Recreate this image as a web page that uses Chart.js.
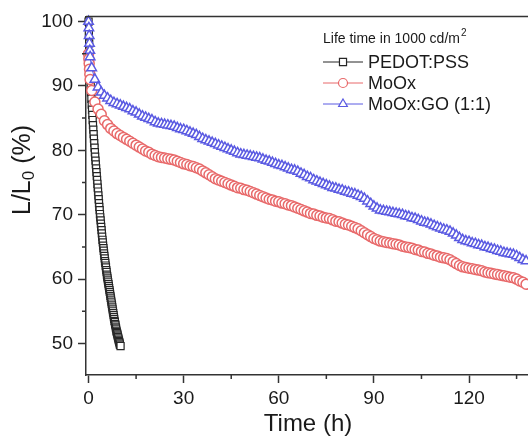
<!DOCTYPE html>
<html>
<head>
<meta charset="utf-8">
<script src="https://cdn.jsdelivr.net/npm/chart.js@4/dist/chart.umd.min.js"></script>
<style>
  html, body { margin: 0; padding: 0; background: #fff; overflow: hidden; }
  canvas { display: block; }
</style>
</head>
<body>
<canvas id="c" width="528" height="441"></canvas>
<script>
// tick labels
const xTicks = [0, 30, 60, 90, 120];
const yTicks = [50, 60, 70, 80, 90, 100];
const xMinor = [15, 45, 75, 105, 135];
const yMinor = [55, 65, 75, 85, 95];

const seriesNames = ['PEDOT:PSS', 'MoOx', 'MoOx:GO (1:1)'];

// PEDOT:PSS (h, %)
const pedotTime = [
  0, 0.1, 0.2, 0.3, 0.4, 0.5, 0.6, 0.7, 0.8, 0.9,
  1.0, 1.1, 1.2, 1.3, 1.4, 1.5, 1.6, 1.7, 1.8, 1.9,
  2.0, 2.1, 2.2, 2.3, 2.4, 2.5, 2.6, 2.7, 2.8, 2.9,
  3.0, 3.1, 3.2, 3.3, 3.4, 3.5, 3.6, 3.7, 3.8, 3.9,
  4.0, 4.1, 4.2, 4.3, 4.4, 4.5, 4.6, 4.7, 4.8, 4.9,
  5.0, 5.1, 5.2, 5.3, 5.4, 5.5, 5.6, 5.7, 5.8, 5.9,
  6.0, 6.1, 6.2, 6.3, 6.4, 6.5, 6.6, 6.7, 6.8, 6.9,
  7.0, 7.1, 7.2, 7.3, 7.4, 7.5, 7.6, 7.7, 7.8, 7.9,
  8.0, 8.1, 8.2, 8.3, 8.4, 8.5, 8.6, 8.7, 8.8, 8.9,
  9.0, 9.1, 9.2, 9.3, 9.4, 9.5, 9.6, 9.7, 9.8, 9.9,
  10.1
];
const pedotVal = [
  100, 98.2, 96.6, 95.0, 93.6, 92.3, 91.1, 90.0, 89.0, 88.0,
  87.1, 86.3, 85.5, 84.7, 83.9, 83.2, 82.5, 81.8, 81.1, 80.4,
  79.7, 79.0, 78.4, 77.8, 77.2, 76.6, 76.0, 75.4, 74.8, 74.2,
  73.6, 73.0, 72.4, 71.8, 71.2, 70.7, 70.1, 69.6, 69.1, 68.6,
  68.1, 67.6, 67.1, 66.6, 66.1, 65.7, 65.2, 64.8, 64.4, 64.0,
  63.6, 63.2, 62.8, 62.5, 62.1, 61.8, 61.4, 61.1, 60.7, 60.4,
  60.1, 59.8, 59.5, 59.2, 58.9, 58.6, 58.3, 58.0, 57.7, 57.4,
  57.1, 56.8, 56.5, 56.2, 55.9, 55.6, 55.3, 55.0, 54.7, 54.4,
  54.1, 53.8, 53.5, 53.3, 53.0, 52.8, 52.5, 52.3, 52.0, 51.8,
  51.6, 51.4, 51.2, 51.0, 50.8, 50.6, 50.4, 50.2, 50.0, 49.8,
  49.6
];

// MoOx and MoOx:GO share the same time base (h)
const moTime = [
  0, 0.1, 0.2, 0.3, 0.4, 0.5,
  1, 2, 3, 4, 5, 6, 7, 8, 9, 10,
  11, 12, 13, 14, 15, 16, 17, 18, 19, 20,
  21, 22, 23, 24, 25, 26, 27, 28, 29, 30,
  31, 32, 33, 34, 35, 36, 37, 38, 39, 40,
  41, 42, 43, 44, 45, 46, 47, 48, 49, 50,
  51, 52, 53, 54, 55, 56, 57, 58, 59, 60,
  61, 62, 63, 64, 65, 66, 67, 68, 69, 70,
  71, 72, 73, 74, 75, 76, 77, 78, 79, 80,
  81, 82, 83, 84, 85, 86, 87, 88, 89, 90,
  91, 92, 93, 94, 95, 96, 97, 98, 99, 100,
  101, 102, 103, 104, 105, 106, 107, 108, 109, 110,
  111, 112, 113, 114, 115, 116, 117, 118, 119, 120,
  121, 122, 123, 124, 125, 126, 127, 128, 129, 130,
  131, 132, 133, 134, 135, 136, 137, 138
];
const mooxVal = [
  95.0, 94.2, 93.5, 92.6, 91.8, 91.0,
  89.3, 87.5, 86.4, 85.6, 84.6, 84.0, 83.4, 83.0, 82.6, 82.3,
  82.0, 81.7, 81.4, 81.1, 80.8, 80.5, 80.2, 79.9, 79.7, 79.4,
  79.2, 79.0, 78.9, 78.8, 78.7, 78.6, 78.5, 78.3, 78.1, 77.9,
  77.8, 77.6, 77.5, 77.3, 77.1, 76.8, 76.5, 76.2, 75.9, 75.6,
  75.4, 75.2, 75.0, 74.8, 74.6, 74.4, 74.2, 74.1, 73.9, 73.8,
  73.6, 73.4, 73.2, 73.0, 72.8, 72.6, 72.4, 72.3, 72.1, 72.0,
  71.8, 71.7, 71.5, 71.4, 71.2, 71.0, 70.8, 70.6, 70.4, 70.2,
  70.1, 69.9, 69.8, 69.6, 69.5, 69.4, 69.2, 69.0, 68.9, 68.7,
  68.5, 68.4, 68.2, 68.0, 67.8, 67.5, 67.2, 66.9, 66.6, 66.3,
  66.1, 65.9, 65.8, 65.7, 65.6, 65.5, 65.4, 65.3, 65.1, 65.0,
  64.9, 64.8, 64.6, 64.5, 64.3, 64.2, 64.0, 63.9, 63.7, 63.6,
  63.4, 63.3, 63.2, 63.0, 62.7, 62.4, 62.1, 61.9, 61.8, 61.7,
  61.6, 61.5, 61.4, 61.3, 61.1, 61.0, 60.9, 60.8, 60.7, 60.6,
  60.5, 60.4, 60.3, 60.2, 60.0, 59.7, 59.5, 59.2
];
const mooxGoVal = [
  100, 99.0, 97.8, 96.6, 95.5, 94.5,
  92.8, 91.0, 89.8, 89.0, 88.5, 88.1, 87.7, 87.4, 87.2, 87.0,
  86.8, 86.6, 86.4, 86.1, 85.9, 85.6, 85.3, 85.1, 84.9, 84.7,
  84.4, 84.2, 84.1, 84.0, 83.9, 83.8, 83.7, 83.5, 83.3, 83.2,
  83.0, 82.8, 82.6, 82.4, 82.1, 81.8, 81.6, 81.4, 81.2, 81.0,
  80.8, 80.6, 80.4, 80.2, 80.0, 79.8, 79.6, 79.4, 79.3, 79.2,
  79.1, 79.0, 78.9, 78.8, 78.6, 78.4, 78.3, 78.1, 77.9, 77.7,
  77.6, 77.4, 77.2, 77.0, 76.9, 76.7, 76.4, 76.2, 75.9, 75.7,
  75.4, 75.2, 75.0, 74.8, 74.6, 74.4, 74.2, 74.1, 73.9, 73.8,
  73.6, 73.5, 73.3, 73.2, 73.0, 72.8, 72.5, 72.1, 71.7, 71.3,
  71.0, 70.7, 70.6, 70.5, 70.4, 70.3, 70.2, 70.1, 70.0, 69.8,
  69.7, 69.5, 69.4, 69.2, 69.0, 68.8, 68.7, 68.5, 68.3, 68.1,
  67.9, 67.7, 67.6, 67.4, 67.1, 66.8, 66.4, 66.1, 65.9, 65.8,
  65.6, 65.5, 65.3, 65.2, 65.0, 64.9, 64.7, 64.6, 64.4, 64.3,
  64.1, 64.0, 63.9, 63.8, 63.6, 63.3, 63.0, 62.8
];

const FONT = "'Liberation Sans', Arial, Helvetica, sans-serif";
const colors = { pedot: '#262626', moox: '#e8696a', mooxGo: '#5a5ae2' };

function pts(xs, ys){ return xs.map((x, i) => ({ x: x, y: ys[i] })); }

// top frame, minor ticks, axis titles and the legend block
const decor = {
  id: 'decor',
  afterDraw(chart){
    const ctx = chart.ctx, a = chart.chartArea;
    const xs = chart.scales.x, ys = chart.scales.y;
    ctx.save();
    ctx.strokeStyle = '#333';
    ctx.lineWidth = 1.5;
    ctx.beginPath();
    ctx.moveTo(a.left, a.top); ctx.lineTo(a.right, a.top);
    xMinor.forEach(v => { const px = xs.getPixelForValue(v); ctx.moveTo(px, a.bottom); ctx.lineTo(px, a.bottom + 4); });
    yMinor.forEach(v => { const py = ys.getPixelForValue(v); ctx.moveTo(a.left, py); ctx.lineTo(a.left - 4, py); });
    ctx.stroke();

    ctx.fillStyle = '#1a1a1a';
    // x title
    ctx.font = '24px ' + FONT;
    ctx.textAlign = 'center';
    ctx.textBaseline = 'middle';
    ctx.fillText('Time (h)', 308, 424);

    // y title with subscript 0
    ctx.save();
    ctx.translate(23, 170);
    ctx.rotate(-Math.PI / 2);
    ctx.textAlign = 'left';
    ctx.textBaseline = 'middle';
    const big = '25px ' + FONT, small = '17px ' + FONT;
    ctx.font = big; const w1 = ctx.measureText('L/L').width; const w3 = ctx.measureText(' (%)').width;
    ctx.font = small; const w2 = ctx.measureText('0').width;
    let x0 = -(w1 + w2 + w3) / 2;
    ctx.font = big; ctx.fillText('L/L', x0, 0);
    ctx.font = small; ctx.fillText('0', x0 + w1, 6);
    ctx.font = big; ctx.fillText(' (%)', x0 + w1 + w2, 0);
    ctx.restore();

    // legend
    ctx.textAlign = 'left';
    ctx.textBaseline = 'middle';
    ctx.font = '14px ' + FONT;
    ctx.fillText('Life time in 1000 cd/m', 323, 39);
    const tw = ctx.measureText('Life time in 1000 cd/m').width;
    ctx.font = '10px ' + FONT;
    ctx.fillText('2', 323 + tw + 1, 33);

    const rows = [
      { name: seriesNames[0], color: colors.pedot, style: 'rect', r: 5 },
      { name: seriesNames[1], color: colors.moox, style: 'circle', r: 4.5 },
      { name: seriesNames[2], color: colors.mooxGo, style: 'triangle', r: 5 }
    ];
    rows.forEach((row, i) => {
      const y = 62 + i * 21;
      ctx.strokeStyle = row.color;
      ctx.lineWidth = 1;
      ctx.beginPath(); ctx.moveTo(323, y); ctx.lineTo(363, y); ctx.stroke();
      ctx.fillStyle = '#fff';
      ctx.strokeStyle = row.color;
      ctx.lineWidth = 1.2;
      Chart.helpers.drawPoint(ctx, { pointStyle: row.style, radius: row.r, borderWidth: 1.2, rotation: 0 }, 343, y);
      ctx.fillStyle = '#1a1a1a';
      ctx.font = '18px ' + FONT;
      ctx.fillText(row.name, 368, y + 1);
    });
    ctx.restore();
  }
};

document.addEventListener('DOMContentLoaded', function(){
  const ctx = document.getElementById('c').getContext('2d');
  new Chart(ctx, {
    type: 'scatter',
    data: {
      datasets: [
        { label: seriesNames[2], data: pts(moTime, mooxGoVal), showLine: true, borderWidth: 1,
          borderColor: colors.mooxGo, backgroundColor: '#fff', pointStyle: 'triangle',
          pointRadius: 5.5, pointBorderWidth: 1.5, clip: false },
        { label: seriesNames[1], data: pts(moTime, mooxVal), showLine: true, borderWidth: 1,
          borderColor: colors.moox, backgroundColor: '#fff', pointStyle: 'circle',
          pointRadius: 5, pointBorderWidth: 1.5, clip: false },
        { label: seriesNames[0], data: pts(pedotTime, pedotVal), showLine: true, borderWidth: 1,
          borderColor: colors.pedot, backgroundColor: '#fff', pointStyle: 'rect',
          pointRadius: 5, pointBorderWidth: 1.2, clip: false }
      ]
    },
    options: {
      responsive: false,
      animation: false,
      events: [],
      layout: { autoPadding: false, padding: { top: 13, left: 0, right: 0, bottom: 0 } },
      plugins: { legend: { display: false }, tooltip: { enabled: false } },
      scales: {
        x: {
          type: 'linear', min: -0.8, max: 138.6,
          afterBuildTicks: s => { s.ticks = xTicks.map(v => ({ value: v })); },
          afterFit: s => { s.height = 66; s.paddingRight = 0; s.paddingLeft = 0; },
          grid: { drawOnChartArea: false, tickLength: 8, tickColor: '#333', tickWidth: 1.5 },
          border: { color: '#333', width: 1.5 },
          ticks: { font: { size: 19, family: FONT }, color: '#1a1a1a', padding: 4, maxRotation: 0 }
        },
        y: {
          type: 'linear', min: 45.1, max: 100.8,
          afterBuildTicks: s => { s.ticks = yTicks.map(v => ({ value: v })); },
          afterFit: s => { s.width = 86; },
          grid: { drawOnChartArea: false, tickLength: 8, tickColor: '#333', tickWidth: 1.5 },
          border: { color: '#333', width: 1.5 },
          ticks: { font: { size: 19, family: FONT }, color: '#1a1a1a', padding: 5 }
        }
      }
    },
    plugins: [decor]
  });
});
</script>
</body>
</html>
